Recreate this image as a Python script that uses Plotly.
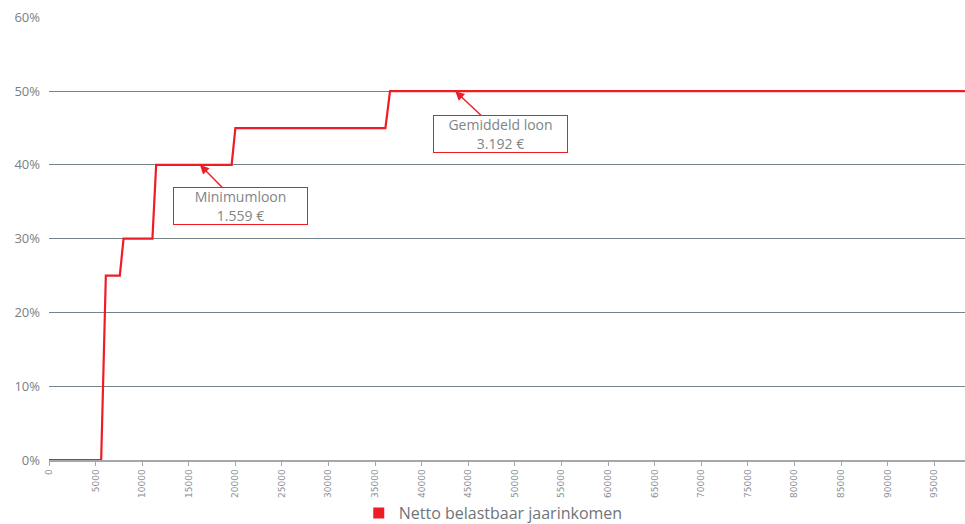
import plotly.graph_objects as go

income = [0, 5600, 6100, 7600, 8000, 11100, 11500, 19600, 20000, 36100, 36600, 98500]
rate = [0.0, 0.0, 0.25, 0.25, 0.30, 0.30, 0.40, 0.40, 0.45, 0.45, 0.50, 0.50]
x_ticks = list(range(0, 100000, 5000))
series_name = "Netto belastbaar jaarinkomen"

RED = "#ee1c25"
GREY = "#7a8085"
FONT = "Open Sans, sans-serif"

fig = go.Figure()
fig.add_trace(go.Scatter(x=income, y=rate, mode="lines",
                         line=dict(color=RED, width=2.2),
                         showlegend=False, hoverinfo="skip"))
fig.add_trace(go.Scatter(x=[None], y=[None], mode="markers", name=series_name,
                         marker=dict(symbol="square", size=11, color=RED)))

ann_style = dict(xref="x", yref="y", axref="x", ayref="y", showarrow=True,
                 arrowhead=2, arrowsize=1.3, arrowwidth=1.4, arrowcolor=RED,
                 bordercolor=RED, borderwidth=1, borderpad=2, bgcolor="white",
                 font=dict(family=FONT, size=14, color="#808589"),
                 width=129, height=32, align="center", valign="middle")
fig.add_annotation(x=16200, y=0.40, ax=20600, ay=0.344,
                   text="Minimumloon<br>1.559 €", **ann_style)
fig.add_annotation(x=43600, y=0.50, ax=48500, ay=0.442,
                   text="Gemiddeld loon<br>3.192 €", **ann_style)

fig.update_layout(
    width=965, height=524,
    margin=dict(l=49, r=0, t=17, b=64, autoexpand=False),
    paper_bgcolor="white", plot_bgcolor="white",
    font=dict(family=FONT, color=GREY),
    legend=dict(orientation="h", x=0.485, xanchor="center", y=-0.120, yanchor="middle",
                bgcolor="rgba(0,0,0,0)",
                font=dict(size=16, color="#6f757a"), itemwidth=30),
    xaxis=dict(range=[0, 98300], tickvals=x_ticks, ticktext=[str(v) for v in x_ticks],
               tickangle=-90, tickfont=dict(size=9, color="#8a9095", family="DejaVu Sans"),
               showgrid=False, showline=True, linecolor="#a3a8ad", linewidth=1.5,
               ticks="outside", ticklen=4, tickcolor="#a3a8ad", zeroline=False,
               automargin=False),
    yaxis=dict(range=[0, 0.6005], tickvals=[0, 0.1, 0.2, 0.3, 0.4, 0.5, 0.6], tickformat=".0%",
               tickfont=dict(size=13, color=GREY),
               showgrid=True, gridcolor="#75838a", gridwidth=1,
               zeroline=False, showline=False, ticks="", ticklabelstandoff=8,
               automargin=False),
)

fig.write_html("out.html", config={"displayModeBar": False},
               post_script="document.body.style.margin='0';document.body.style.overflow='hidden';")
